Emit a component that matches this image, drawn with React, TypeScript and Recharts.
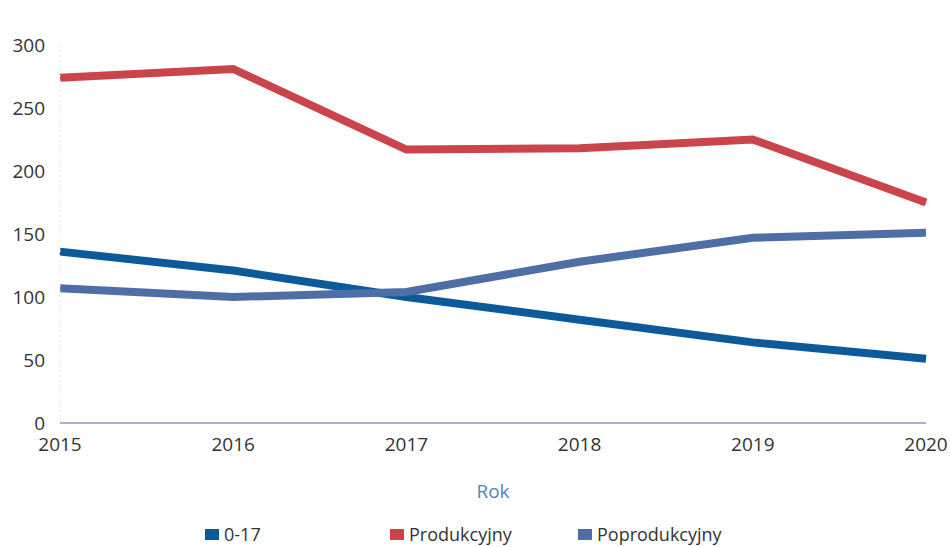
import React from "react";
import { LineChart, Line, XAxis, YAxis, Legend } from "recharts";

const years = ["2015", "2016", "2017", "2018", "2019", "2020"];
const ageYoung = [136, 121, 100, 82, 64, 51];
const working = [274, 281, 217, 218, 225, 175];
const ageOld = [107, 100, 104, 128, 147, 151];
const yTicks = [0, 50, 100, 150, 200, 250, 300];

const seriesNames = { young: "0-17", working: "Produkcyjny", old: "Poprodukcyjny" };
const colors = { young: "#0d5a9b", working: "#c9444b", old: "#4e6ea6" };

const data = years.map((y, i) => ({
  year: y,
  young: ageYoung[i],
  working: working[i],
  old: ageOld[i],
}));

const FONT = "'Open Sans', sans-serif";

const LegendContent = () => {
  const items = [
    { key: "young", left: 205 },
    { key: "working", left: 390 },
    { key: "old", left: 578 },
  ];
  return (
    <div style={{ position: "relative", height: 24, width: 950 }}>
      {items.map((it) => (
        <div
          key={it.key}
          style={{
            position: "absolute",
            left: it.left,
            top: 0,
            height: 24,
            display: "flex",
            alignItems: "center",
            fontFamily: FONT,
            fontSize: 18,
            color: "#333",
            whiteSpace: "nowrap",
          }}
        >
          <span
            style={{
              display: "inline-block",
              width: 14,
              height: 11,
              background: (colors as any)[it.key],
              marginRight: 5,
            }}
          />
          {(seriesNames as any)[it.key]}
        </div>
      ))}
    </div>
  );
};

export default function App() {
  return (
    <div style={{ position: "absolute", left: 0, top: 0, width: 950, height: 547, background: "#fff" }}>
      <LineChart
        width={950}
        height={547}
        data={data}
        margin={{ top: 45, right: 24, left: 0, bottom: 1 }}
      >
        <XAxis
          dataKey="year"
          height={99}
          tickLine={false}
          tickSize={0}
          tickMargin={15}
          axisLine={{ stroke: "#8d9db3", strokeWidth: 1.5 }}
          tick={{ fill: "#333", fontSize: 19, fontFamily: FONT }}
          interval={0}
          padding={{ left: 0, right: 0 }}
          label={{
            value: "Rok",
            position: "insideBottom",
            offset: 24,
            fill: "#5b82b8",
            fontSize: 19,
            fontFamily: FONT,
          }}
        />
        <YAxis
          width={60}
          domain={[0, 300]}
          ticks={yTicks}
          interval={0}
          tickLine={false}
          tickSize={0}
          tickMargin={15}
          axisLine={{ stroke: "#e3e7ec", strokeDasharray: "2 3" }}
          tick={{ fill: "#333", fontSize: 19, fontFamily: FONT }}
        />
        <Legend verticalAlign="bottom" align="left" content={<LegendContent />} />
        <Line
          type="linear"
          dataKey="working"
          name={seriesNames.working}
          stroke={colors.working}
          strokeWidth={8}
          dot={false}
          activeDot={false}
          isAnimationActive={false}
        />
        <Line
          type="linear"
          dataKey="young"
          name={seriesNames.young}
          stroke={colors.young}
          strokeWidth={8}
          dot={false}
          activeDot={false}
          isAnimationActive={false}
        />
        <Line
          type="linear"
          dataKey="old"
          name={seriesNames.old}
          stroke={colors.old}
          strokeWidth={8}
          dot={false}
          activeDot={false}
          isAnimationActive={false}
        />
      </LineChart>
    </div>
  );
}
